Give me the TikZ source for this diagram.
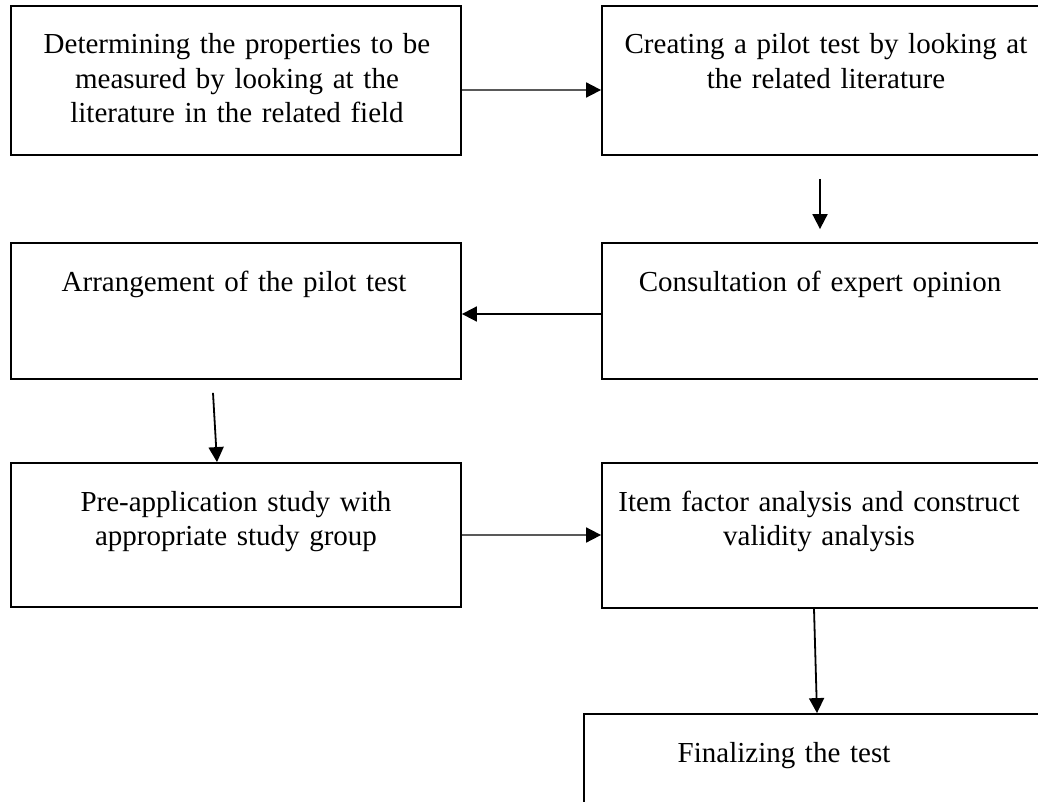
\documentclass[tikz,border=0pt]{standalone}
\usepackage{fontspec}
\setmainfont{Liberation Serif}
\usetikzlibrary{arrows.meta}
\tikzset{>={Triangle[length=15pt,width=15pt]}}

\begin{document}
\begin{tikzpicture}[x=1pt,y=-1pt,
  stepbox/.style={draw,line width=1.8pt,rectangle,inner sep=0pt},
  steptext/.style={anchor=base,inner sep=0pt,text width=440pt,align=center,
    font=\fontsize{29}{34.5}\selectfont},
  flow/.style={->,line width=1.8pt},
  flowgrey/.style={-{Triangle[length=15pt,width=15pt,color=black]},line width=1.8pt,black!65}]
  \useasboundingbox (0,0) rectangle (1038,802);
  \clip (0,0) rectangle (1038,802);

  % Boxes
  \node[stepbox,minimum width=450pt,minimum height=149pt] (determine) at (236,80.5) {};
  \node[stepbox,minimum width=440pt,minimum height=149pt] (pilot) at (822,80.5) {};
  \node[stepbox,minimum width=450pt,minimum height=136pt] (arrange) at (236,311) {};
  \node[stepbox,minimum width=440pt,minimum height=136pt] (expert) at (822,311) {};
  \node[stepbox,minimum width=450pt,minimum height=144pt] (preapp) at (236,535) {};
  \node[stepbox,minimum width=440pt,minimum height=145pt] (factor) at (822,535.5) {};
  \node[stepbox,minimum width=458pt,minimum height=106pt] (final) at (813,767) {};

  % Texts
  \node[steptext] (determinetext) at (237,54) {Determining the properties to be\\measured by looking at the\\literature in the related field};
  \node[steptext] (pilottext) at (826,54) {Creating a pilot test by looking at\\the related literature};
  \node[steptext] (arrangetext) at (234,291) {Arrangement of the pilot test};
  \node[steptext] (experttext) at (820,291) {Consultation of expert opinion};
  \node[steptext] (preapptext) at (236,511) {Pre-application study with\\appropriate study group};
  \node[steptext] (factortext) at (819,511) {Item factor analysis and construct\\validity analysis};
  \node[steptext] (finaltext) at (784,762) {Finalizing the test};

  % Arrows
  \draw[flowgrey] ([yshift=-9.5pt]determine.east) -- ([yshift=-9.5pt]pilot.west);
  \draw[flow] ([xshift=-2pt,yshift=-23pt]pilot.south) -- ([xshift=-2pt,yshift=13pt]expert.north);
  \draw[flow] ([yshift=-3pt]expert.west) -- ([yshift=-3pt]arrange.east);
  \draw[flow] ([xshift=-23pt,yshift=-13pt]arrange.south) -- ([xshift=-19pt]preapp.north);
  \draw[flowgrey] (preapp.east) -- (preapp.east -| factor.west);
  \draw[flow] ([xshift=-8pt]factor.south) -- ([xshift=4pt]final.north);
\end{tikzpicture}
\end{document}
